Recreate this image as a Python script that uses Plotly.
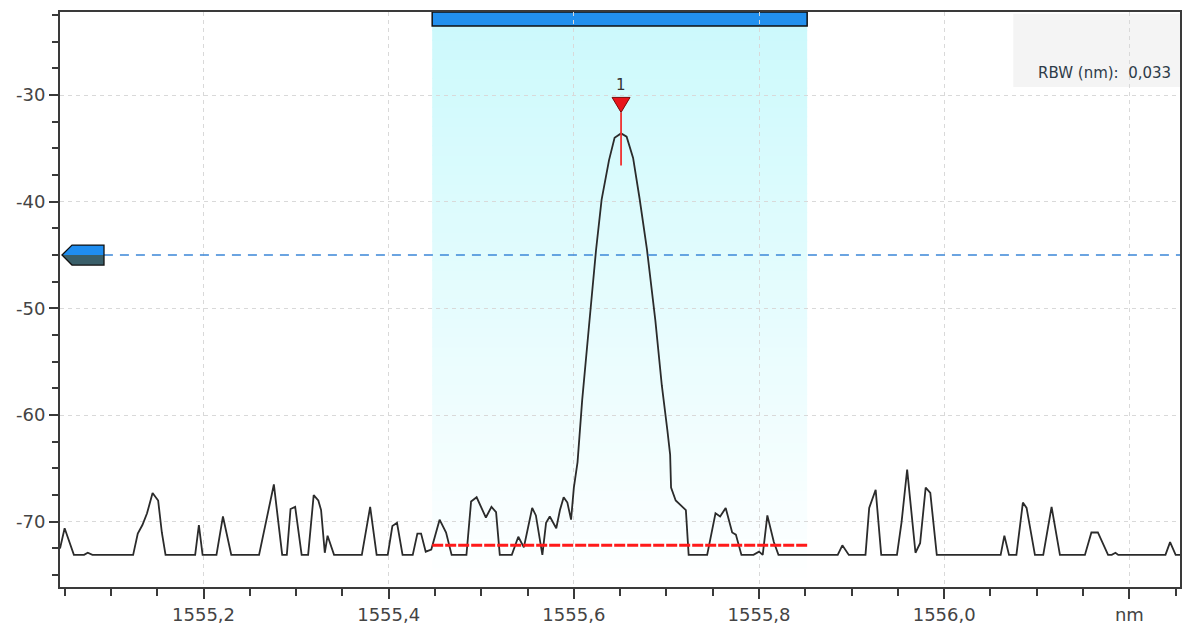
import plotly.graph_objects as go

# ---------------- data ----------------
wavelength_nm = [
    1555.045, 1555.050, 1555.060, 1555.071, 1555.075, 1555.080, 1555.124, 1555.129, 1555.134, 1555.139,
    1555.145, 1555.151, 1555.155, 1555.159, 1555.191, 1555.195, 1555.199, 1555.214, 1555.221, 1555.230,
    1555.260, 1555.276, 1555.285, 1555.290, 1555.294, 1555.299, 1555.306, 1555.313, 1555.319, 1555.324,
    1555.327, 1555.331, 1555.334, 1555.341, 1555.371, 1555.380, 1555.387, 1555.399, 1555.404, 1555.409,
    1555.415, 1555.426, 1555.431, 1555.435, 1555.440, 1555.446, 1555.455, 1555.462, 1555.468, 1555.484,
    1555.489, 1555.495, 1555.505, 1555.511, 1555.516, 1555.520, 1555.533, 1555.540, 1555.546, 1555.555,
    1555.559, 1555.566, 1555.570, 1555.574, 1555.581, 1555.585, 1555.589, 1555.593, 1555.597, 1555.600,
    1555.604, 1555.609, 1555.616, 1555.624, 1555.630, 1555.638, 1555.644, 1555.651, 1555.657, 1555.664,
    1555.671, 1555.679, 1555.688, 1555.695, 1555.701, 1555.704, 1555.705, 1555.710, 1555.721, 1555.724,
    1555.744, 1555.753, 1555.758, 1555.764, 1555.771, 1555.775, 1555.781, 1555.794, 1555.800, 1555.804,
    1555.809, 1555.816, 1555.821, 1555.885, 1555.890, 1555.897, 1555.915, 1555.919, 1555.926, 1555.932,
    1555.949, 1555.954, 1555.960, 1555.969, 1555.974, 1555.980, 1555.985, 1555.992, 1556.061, 1556.065,
    1556.070, 1556.078, 1556.085, 1556.089, 1556.098, 1556.107, 1556.116, 1556.125, 1556.152, 1556.159,
    1556.166, 1556.177, 1556.181, 1556.185, 1556.188, 1556.239, 1556.244, 1556.250, 1556.256,
]
power_dbm = [
    -72.5, -70.6, -73.1, -73.1, -72.9, -73.1, -73.1, -71.1, -70.3, -69.2,
    -67.3, -68.0, -71.0, -73.1, -73.1, -70.3, -73.1, -73.1, -69.5, -73.1,
    -73.1, -66.5, -73.1, -73.1, -68.8, -68.6, -73.1, -73.1, -67.5, -68.0,
    -68.9, -72.9, -71.3, -73.1, -73.1, -68.6, -73.1, -73.1, -70.4, -70.1,
    -73.1, -73.1, -71.1, -71.1, -72.8, -72.6, -69.8, -71.0, -73.1, -73.1,
    -68.1, -67.7, -69.6, -68.6, -69.1, -73.1, -73.1, -71.4, -72.4, -68.7,
    -69.4, -73.1, -70.1, -69.5, -70.6, -68.9, -67.7, -68.2, -69.8, -66.8,
    -64.4, -58.6, -52.0, -44.5, -39.8, -36.1, -34.0, -33.6, -33.9, -35.9,
    -39.7, -44.5, -51.1, -57.2, -61.4, -63.7, -66.8, -68.0, -68.9, -73.1,
    -73.1, -69.2, -69.5, -68.7, -71.0, -71.2, -73.1, -73.1, -72.8, -73.1,
    -69.4, -71.9, -73.1, -73.1, -72.2, -73.1, -73.1, -68.7, -67.0, -73.1,
    -73.1, -70.0, -65.1, -72.9, -72.0, -66.8, -67.3, -73.1, -73.1, -71.3,
    -73.1, -73.1, -68.2, -68.7, -73.1, -73.1, -68.6, -73.1, -73.1, -71.0,
    -71.0, -73.1, -73.1, -72.9, -73.1, -73.1, -71.9, -73.1, -73.1,
]

x_tick_vals = [1555.2, 1555.4, 1555.6, 1555.8, 1556.0, 1556.2]
x_tick_text = ["1555,2", "1555,4", "1555,6", "1555,8", "1556,0", "nm"]
y_tick_vals = [-30, -40, -50, -60, -70]
y_tick_text = ["-30", "-40", "-50", "-60", "-70"]

x_range = [1555.045, 1556.2547]
y_range = [-76.11, -22.22]

window_start = 1555.447      # analysis window (shaded)
window_end = 1555.852
threshold_dbm = -45.0         # blue dashed threshold
floor_level_dbm = -72.2       # red reference line inside window
marker_x = 1555.651           # marker 1
marker_y = -33.6
rbw_text = "RBW (nm):  0,033"

# ---------------- styling ----------------
FONT = "DejaVu Sans"
AXIS_COLOR = "#3a3a3a"
GRID_COLOR = "#d9d9d9"

fig = go.Figure()

fig.add_trace(go.Scatter(
    x=wavelength_nm, y=power_dbm, mode="lines",
    line=dict(color="#2b2b2b", width=1.8), hoverinfo="skip", showlegend=False,
))

shapes = []

# gradient shaded window (bands, below grid)
n_bands = 60
top_rgb = (203, 249, 252)
bot_rgb = (255, 255, 255)
for i in range(n_bands):
    t = (i + 0.5) / n_bands  # 0 bottom -> 1 top
    r = round(bot_rgb[0] + (top_rgb[0] - bot_rgb[0]) * t)
    g = round(bot_rgb[1] + (top_rgb[1] - bot_rgb[1]) * t)
    b = round(bot_rgb[2] + (top_rgb[2] - bot_rgb[2]) * t)
    shapes.append(dict(
        type="rect", xref="x", yref="paper", x0=window_start, x1=window_end,
        y0=i / n_bands, y1=(i + 1) / n_bands + 0.002,
        fillcolor=f"rgb({r},{g},{b})", line=dict(width=0), layer="below",
    ))

# blue bar at top of window
shapes.append(dict(
    type="rect", xref="x", yref="paper", x0=window_start, x1=window_end,
    y0=1 - 14 / 575, y1=1, fillcolor="#2290ee",
    line=dict(color="#111111", width=1.5), layer="below",
))

# red reference line in window
shapes.append(dict(
    type="line", xref="x", yref="y", x0=window_start, x1=window_end,
    y0=floor_level_dbm, y1=floor_level_dbm,
    line=dict(color="#ff1a1a", width=3, dash="11px,2px"), layer="above",
))

# blue dashed threshold line
shapes.append(dict(
    type="line", xref="paper", yref="y", x0=44 / 1122, x1=1,
    y0=threshold_dbm, y1=threshold_dbm,
    line=dict(color="#3b87d8", width=1.6, dash="9px,7px"), layer="above",
))


def pix_path(pts):
    return "M" + " L".join(f"{px},{py}" for px, py in pts) + " Z"


# threshold handle (pentagon at left axis)
for pts, col in (
    ([(2, 0), (12, 10), (44, 10), (44, 0)], "#1f8df0"),
    ([(2, 0), (44, 0), (44, -10), (12, -10)], "#3a5f6a"),
):
    shapes.append(dict(
        type="path", xref="x", yref="y", xsizemode="pixel", ysizemode="pixel",
        xanchor=x_range[0], yanchor=threshold_dbm, path=pix_path(pts),
        fillcolor=col, line=dict(width=0), layer="above",
    ))
shapes.append(dict(
    type="path", xref="x", yref="y", xsizemode="pixel", ysizemode="pixel",
    xanchor=x_range[0], yanchor=threshold_dbm,
    path=pix_path([(2, 0), (12, 10), (44, 10), (44, -10), (12, -10)]),
    line=dict(color="#111111", width=1.3), layer="above",
))

# marker 1: red vertical line + triangle
shapes.append(dict(
    type="line", xref="x", yref="y", xsizemode="pixel", ysizemode="pixel",
    xanchor=marker_x, yanchor=marker_y, x0=0, x1=0, y0=21, y1=-32,
    line=dict(color="#f03030", width=1.8), layer="above",
))
shapes.append(dict(
    type="path", xref="x", yref="y", xsizemode="pixel", ysizemode="pixel",
    xanchor=marker_x, yanchor=marker_y,
    path=pix_path([(-9, 36), (9, 36), (0, 21)]),
    fillcolor="#e8141b", line=dict(color="#7a0a0a", width=1), layer="above",
))

# RBW info box
shapes.append(dict(
    type="rect", xref="paper", yref="paper", x0=(1015 - 60) / 1122, x1=1,
    y0=0.8696, y1=0.997, fillcolor="#f4f4f4", line=dict(width=0), layer="below",
))

annotations = [
    dict(x=marker_x, y=marker_y, xref="x", yref="y", yshift=48, text="1",
         showarrow=False, font=dict(family=FONT, size=15, color="#333333")),
    dict(x=1, y=0.894, xref="paper", yref="paper", xanchor="right", yanchor="middle",
         xshift=-7, text=rbw_text, showarrow=False,
         font=dict(family=FONT, size=15, color="#2e3b48")),
]

axis_common = dict(
    showline=True, linecolor=AXIS_COLOR, linewidth=2, mirror=True,
    ticks="outside", tickcolor=AXIS_COLOR, tickwidth=2,
    showgrid=True, gridcolor=GRID_COLOR, gridwidth=1, griddash="4px,4px",
    zeroline=False, tickfont=dict(family=FONT, size=18, color="#444444"),
)

fig.update_layout(
    width=1184, height=628,
    margin=dict(l=60, r=2, t=12, b=41),
    paper_bgcolor="white", plot_bgcolor="white",
    shapes=shapes, annotations=annotations, showlegend=False,
    xaxis=dict(
        range=x_range, tickmode="array", tickvals=x_tick_vals, ticktext=x_tick_text,
        ticklen=10,
        minor=dict(dtick=0.05, tick0=1555.0, ticks="outside", ticklen=7,
                   tickcolor=AXIS_COLOR, tickwidth=2, showgrid=False),
        **axis_common,
    ),
    yaxis=dict(
        range=y_range, tickmode="array", tickvals=y_tick_vals, ticktext=y_tick_text,
        ticklen=9,
        minor=dict(dtick=2.5, tick0=-30, ticks="outside", ticklen=6,
                   tickcolor=AXIS_COLOR, tickwidth=2, showgrid=False),
        **axis_common,
    ),
)

fig.write_html("out.html")
